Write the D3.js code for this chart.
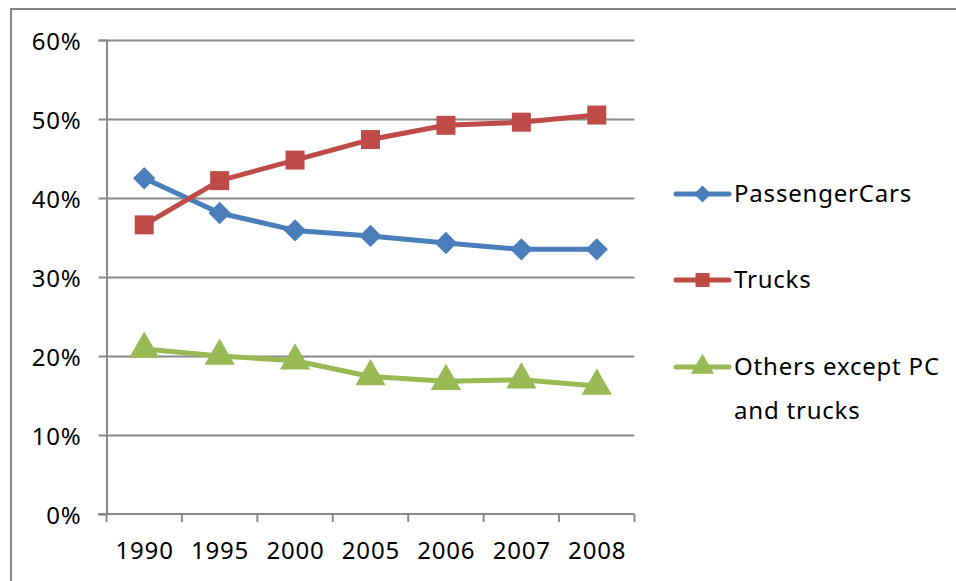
<!DOCTYPE html>
<html>
<head>
<meta charset="utf-8">
<script src="https://cdn.jsdelivr.net/npm/d3@7"></script>
<style>
  html, body { margin: 0; padding: 0; background: #fff; }
  svg { display: block; font-family: "Noto Sans", "Open Sans", sans-serif; }
  svg text { letter-spacing: 0.8px; }
</style>
</head>
<body>
<svg id="chart" width="956" height="581"></svg>
<script>
// Share of vehicle categories by year
const years = ["1990", "1995", "2000", "2005", "2006", "2007", "2008"];
const passengerCars = [42.5, 38.1, 35.9, 35.2, 34.3, 33.5, 33.5];
const trucks = [36.6, 42.2, 44.8, 47.4, 49.2, 49.6, 50.5];
const others = [20.9, 20.0, 19.4, 17.4, 16.8, 17.0, 16.2];
const yTicks = [0, 10, 20, 30, 40, 50, 60];

const seriesNames = ["PassengerCars", "Trucks", "Others except PC and trucks"];
const seriesColors = ["#4A7EBB", "#BE4B48", "#98B954"];

const series = [
  { name: seriesNames[0], values: passengerCars, color: seriesColors[0], marker: "diamond" },
  { name: seriesNames[1], values: trucks, color: seriesColors[1], marker: "square" },
  { name: seriesNames[2], values: others, color: seriesColors[2], marker: "triangle" }
];

const FONT = 24;
const svg = d3.select("#chart");
const plot = { left: 106.5, right: 634.5, top: 40, bottom: 514 };

// outer frame
svg.append("rect")
  .attr("x", 11).attr("y", 9)
  .attr("width", 960).attr("height", 600)
  .attr("fill", "none").attr("stroke", "#878787").attr("stroke-width", 2);

const x = d3.scaleBand().domain(years).range([plot.left, plot.right]);
const y = d3.scaleLinear().domain([0, 60]).range([plot.bottom, plot.top]);

// horizontal gridlines
svg.append("g")
  .selectAll("line")
  .data(yTicks.filter(t => t > 0))
  .join("line")
  .attr("x1", plot.left).attr("x2", plot.right)
  .attr("y1", d => Math.round(y(d)) + 0.5).attr("y2", d => Math.round(y(d)) + 0.5)
  .attr("stroke", "#8a8a8a").attr("stroke-width", 2);

// y axis
const yAxis = svg.append("g")
  .attr("transform", `translate(${plot.left},0)`)
  .call(d3.axisLeft(y).tickValues(yTicks).tickFormat(d => d + "%").tickSize(8).tickPadding(17));
yAxis.select(".domain").attr("stroke", "#8a8a8a").attr("stroke-width", 2);
yAxis.selectAll(".tick line").attr("stroke", "#8a8a8a").attr("stroke-width", 2);
yAxis.selectAll(".tick text").attr("font-size", FONT).attr("fill", "#000")
  .attr("font-family", "Noto Sans, sans-serif")
  .attr("dy", "0.38em");

// x axis with tick marks on band edges
const xAxis = svg.append("g").attr("transform", `translate(0,${plot.bottom})`);
xAxis.append("line")
  .attr("x1", plot.left - 8).attr("x2", plot.right)
  .attr("y1", 0).attr("y2", 0)
  .attr("stroke", "#8a8a8a").attr("stroke-width", 2);
const edges = years.map(d => x(d)).concat([x(years[years.length - 1]) + x.bandwidth()]);
xAxis.selectAll("line.edge")
  .data(edges)
  .join("line")
  .attr("class", "edge")
  .attr("x1", d => d).attr("x2", d => d)
  .attr("y1", 0).attr("y2", 8)
  .attr("stroke", "#8a8a8a").attr("stroke-width", 2);
xAxis.selectAll("text")
  .data(years)
  .join("text")
  .attr("x", d => x(d) + x.bandwidth() / 2 + 0.4)
  .attr("y", 37)
  .attr("dy", "0.35em")
  .attr("text-anchor", "middle")
  .attr("font-size", FONT)
  .attr("fill", "#000")
  .text(d => d);

function markerPath(type, s) {
  if (type === "diamond") return d3.symbol(d3.symbolDiamond2, s * s * 1.1)();
  if (type === "square") return d3.symbol(d3.symbolSquare, s * s)();
  return d3.symbol(d3.symbolTriangle, s * s * 0.9)();
}

const cx = d => x(d) + x.bandwidth() / 2;
const line = d3.line().x((v, i) => cx(years[i])).y(v => y(v));

series.forEach(s => {
  const g = svg.append("g");
  g.append("path")
    .datum(s.values)
    .attr("d", line)
    .attr("fill", "none")
    .attr("stroke", s.color)
    .attr("stroke-width", 5)
    .attr("stroke-linejoin", "round");
  const size = s.marker === "diamond" ? 17 : s.marker === "square" ? 19 : 21;
  g.selectAll("path.m")
    .data(s.values)
    .join("path")
    .attr("class", "m")
    .attr("transform", (v, i) => `translate(${cx(years[i])},${y(v)})`)
    .attr("d", markerPath(s.marker, size))
    .attr("fill", s.color);
});

// legend
const legendRows = [
  { s: series[0], y: 194, lines: ["PassengerCars"] },
  { s: series[1], y: 280, lines: ["Trucks"] },
  { s: series[2], y: 367, lines: ["Others except PC", "and trucks"] }
];
const legend = svg.append("g");
legendRows.forEach(r => {
  const g = legend.append("g").attr("transform", `translate(0,${r.y})`);
  g.append("line")
    .attr("x1", 676).attr("x2", 729)
    .attr("stroke", r.s.color).attr("stroke-width", 5).attr("stroke-linecap", "round");
  const size = r.s.marker === "diamond" ? 13 : r.s.marker === "square" ? 14 : 16;
  g.append("path")
    .attr("transform", "translate(702.5,0)")
    .attr("d", markerPath(r.s.marker, size))
    .attr("fill", r.s.color);
  r.lines.forEach((t, i) => {
    g.append("text")
      .attr("x", 734)
      .attr("y", i * 44)
      .attr("dy", "0.35em")
      .attr("font-size", FONT)
      .attr("fill", "#000")
      .text(t);
  });
});
</script>
</body>
</html>
